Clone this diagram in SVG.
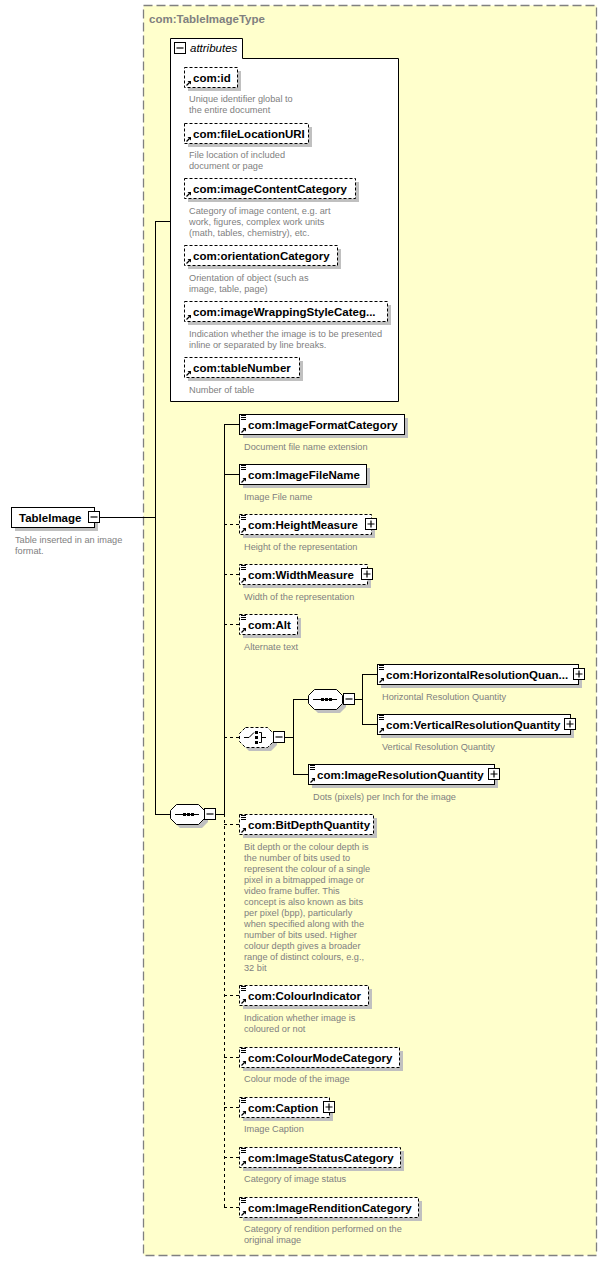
<svg xmlns="http://www.w3.org/2000/svg" xmlns:xlink="http://www.w3.org/1999/xlink" width="607" height="1262" viewBox="0 0 607 1262">
<style>
.frame{fill:#ffffcc;stroke:#808080;stroke-width:1.3;stroke-dasharray:9,4}
.box{fill:#ffffff;stroke:#000000;stroke-width:1}
.opt{stroke-dasharray:3,2}
.sh{fill:#c0c0c0}
.ln{fill:none;stroke:#000000;stroke-width:1}
.dl{fill:none;stroke:#000000;stroke-width:1;stroke-dasharray:3,3}
.nm{font-family:"Liberation Sans",Arial,sans-serif;font-weight:bold;font-size:11.5px;fill:#000000}
.ds{font-family:"Liberation Sans",Arial,sans-serif;font-size:9.2px;fill:#808080}
.ttl{font-family:"Liberation Sans",Arial,sans-serif;font-weight:bold;font-size:11.5px;fill:#808080}
.it{font-family:"Liberation Sans",Arial,sans-serif;font-style:italic;font-size:11.5px;fill:#000000}
</style>
<defs>
<g id="ico-el"><path d="M0,0.5H5M0,2.5H5M0,4.5H5" stroke="#000" stroke-width="1" fill="none"/></g>
<g id="ico-ref"><path d="M0.5,5.5L3.5,2.5" stroke="#000" stroke-width="1.2" fill="none"/><polygon points="1.5,1 5,1 5,4.5" fill="#000"/></g>
<g id="btn-minus"><rect x="0.5" y="0.5" width="11" height="11" fill="#fff" stroke="#000"/><path d="M2.5,6H9.5" stroke="#000" stroke-width="1.2"/></g>
<g id="btn-plus"><rect x="0.5" y="0.5" width="11" height="11" fill="#fff" stroke="#000"/><path d="M2.5,6H9.5M6,2.5V9.5" stroke="#000" stroke-width="1.2"/></g>
<g id="seq-ico"><path d="M5,10H29" stroke="#000" stroke-width="1"/><rect x="13" y="8.5" width="3" height="3" fill="#000"/><rect x="17" y="8.5" width="3" height="3" fill="#000"/><rect x="21" y="8.5" width="3" height="3" fill="#000"/></g>
</defs>

<rect class="frame" x="143.5" y="5.5" width="453" height="1250"/>
<text class="ttl" x="149" y="23">com:TableImageType</text>

<g id="connectors">
<path class="ln" d="M99,517.5H155.5M155.5,221V814M155,221.5H170M155,814.5H171"/>
<path class="ln" d="M216,814.5H224.5M224.5,424V814"/>
<path class="dl" d="M224.5,814V1207.5"/>
<path class="ln" d="M224,424.5H239M224,474.5H239"/>
<path class="dl" d="M224,524.5H239M224,574.5H239M224,624.5H239M224,737.5H239M224,824.5H239M224,995.5H239M224,1057.5H239M224,1107.5H239M224,1157.5H239M224,1207.5H239"/>
<path class="ln" d="M285,737.5H293.5M293.5,699V774M293,699.5H308M293,774.5H308"/>
<path class="ln" d="M355,699.5H362.5M362.5,674V724M362,674.5H377M362,724.5H377"/>
</g>

<g id="n-TableImage">
<rect class="sh" x="15" y="511" width="83" height="20"/>
<rect class="box" x="11.5" y="507.5" width="83" height="20"/>
<text class="nm" x="19" y="522">TableImage</text>
<use xlink:href="#btn-minus" x="88" y="511"/>
<text class="ds" x="15" y="543">Table inserted in an image</text>
<text class="ds" x="15" y="554">format.</text>
</g>

<g id="attributes">
<path d="M170.5,401.5V38.5H242.5V58.5H398.5V401.5Z" fill="#fff" stroke="#000"/>
<use xlink:href="#btn-minus" x="174" y="42"/>
<text class="it" x="190" y="52">attributes</text>
</g>

<g id="a-id">
<rect class="sh" x="188" y="71" width="53" height="20"/>
<rect class="box opt" x="184.5" y="67.5" width="53" height="20"/>
<use xlink:href="#ico-ref" x="186" y="80"/>
<text class="nm" x="193" y="82">com:id</text>
<text class="ds" x="189" y="102">Unique identifier global to</text>
<text class="ds" x="189" y="113">the entire document</text>
</g>
<g id="a-fileLocationURI">
<rect class="sh" x="188" y="127" width="124" height="20"/>
<rect class="box opt" x="184.5" y="123.5" width="124" height="20"/>
<use xlink:href="#ico-ref" x="186" y="136"/>
<text class="nm" x="193" y="138">com:fileLocationURI</text>
<text class="ds" x="189" y="158">File location of included</text>
<text class="ds" x="189" y="169">document or page</text>
</g>
<g id="a-imageContentCategory">
<rect class="sh" x="188" y="182" width="171" height="20"/>
<rect class="box opt" x="184.5" y="178.5" width="171" height="20"/>
<use xlink:href="#ico-ref" x="186" y="191"/>
<text class="nm" x="193" y="193">com:imageContentCategory</text>
<text class="ds" x="189" y="214">Category of image content, e.g. art</text>
<text class="ds" x="189" y="225">work, figures, complex work units</text>
<text class="ds" x="189" y="236">(math, tables, chemistry), etc.</text>
</g>
<g id="a-orientationCategory">
<rect class="sh" x="188" y="249" width="153" height="20"/>
<rect class="box opt" x="184.5" y="245.5" width="153" height="20"/>
<use xlink:href="#ico-ref" x="186" y="258"/>
<text class="nm" x="193" y="260">com:orientationCategory</text>
<text class="ds" x="189" y="281">Orientation of object (such as</text>
<text class="ds" x="189" y="292">image, table, page)</text>
</g>
<g id="a-imageWrappingStyleCategory">
<rect class="sh" x="188" y="305" width="203" height="20"/>
<rect class="box opt" x="184.5" y="301.5" width="203" height="20"/>
<use xlink:href="#ico-ref" x="186" y="314"/>
<text class="nm" x="193" y="316">com:imageWrappingStyleCateg...</text>
<text class="ds" x="189" y="337">Indication whether the image is to be presented</text>
<text class="ds" x="189" y="348">inline or separated by line breaks.</text>
</g>
<g id="a-tableNumber">
<rect class="sh" x="188" y="361" width="115" height="20"/>
<rect class="box opt" x="184.5" y="357.5" width="115" height="20"/>
<use xlink:href="#ico-ref" x="186" y="370"/>
<text class="nm" x="193" y="372">com:tableNumber</text>
<text class="ds" x="189" y="393">Number of table</text>
</g>

<g id="seq-main">
<polygon class="sh" points="180,808 202,808 208,814 208,822 202,828 180,828 174,822 174,814"/>
<polygon class="box" points="176.5,804.5 198.5,804.5 204.5,810.5 204.5,818.5 198.5,824.5 176.5,824.5 170.5,818.5 170.5,810.5"/>
<use xlink:href="#seq-ico" x="170" y="804.5"/>
<use xlink:href="#btn-minus" x="204" y="808"/>
</g>

<g id="e-ImageFormatCategory">
<rect class="sh" x="243" y="418" width="165" height="20"/>
<rect class="box" x="239.5" y="414.5" width="165" height="20"/>
<use xlink:href="#ico-el" x="241" y="415"/>
<use xlink:href="#ico-ref" x="241" y="427"/>
<text class="nm" x="248" y="429">com:ImageFormatCategory</text>
<text class="ds" x="244" y="450">Document file name extension</text>
</g>
<g id="e-ImageFileName">
<rect class="sh" x="243" y="468" width="127" height="20"/>
<rect class="box" x="239.5" y="464.5" width="127" height="20"/>
<use xlink:href="#ico-el" x="241" y="465"/>
<use xlink:href="#ico-ref" x="241" y="477"/>
<text class="nm" x="248" y="479">com:ImageFileName</text>
<text class="ds" x="244" y="500">Image File name</text>
</g>
<g id="e-HeightMeasure">
<rect class="sh" x="243" y="518" width="132" height="20"/>
<rect class="box opt" x="239.5" y="514.5" width="132" height="20"/>
<use xlink:href="#ico-el" x="241" y="515"/>
<use xlink:href="#ico-ref" x="241" y="527"/>
<text class="nm" x="248" y="529">com:HeightMeasure</text>
<use xlink:href="#btn-plus" x="365" y="518"/>
<text class="ds" x="244" y="550">Height of the representation</text>
</g>
<g id="e-WidthMeasure">
<rect class="sh" x="243" y="568" width="128" height="20"/>
<rect class="box opt" x="239.5" y="564.5" width="128" height="20"/>
<use xlink:href="#ico-el" x="241" y="565"/>
<use xlink:href="#ico-ref" x="241" y="577"/>
<text class="nm" x="248" y="579">com:WidthMeasure</text>
<use xlink:href="#btn-plus" x="361" y="568"/>
<text class="ds" x="244" y="600">Width of the representation</text>
</g>
<g id="e-Alt">
<rect class="sh" x="243" y="618" width="58" height="20"/>
<rect class="box opt" x="239.5" y="614.5" width="58" height="20"/>
<use xlink:href="#ico-el" x="241" y="615"/>
<use xlink:href="#ico-ref" x="241" y="627"/>
<text class="nm" x="248" y="629">com:Alt</text>
<text class="ds" x="244" y="650">Alternate text</text>
</g>

<g id="choice">
<polygon class="sh" points="249,731 271,731 277,737 277,745 271,751 249,751 243,745 243,737"/>
<polygon class="box opt" points="245.5,727.5 267.5,727.5 273.5,733.5 273.5,741.5 267.5,747.5 245.5,747.5 239.5,741.5 239.5,733.5"/>
<path d="M244,737.5H249L254,732.5" stroke="#000" fill="none"/>
<rect x="255" y="731" width="3" height="3" fill="#000"/>
<rect x="255" y="736" width="3" height="3" fill="#000"/>
<rect x="255" y="741" width="3" height="3" fill="#000"/>
<path d="M259,732.5H261.5V742.5H259M261.5,737.5H266" stroke="#000" fill="none"/>
<use xlink:href="#btn-minus" x="273" y="731"/>
</g>

<g id="seq-inner">
<polygon class="sh" points="318,693 340,693 346,699 346,707 340,713 318,713 312,707 312,699"/>
<polygon class="box" points="314.5,689.5 336.5,689.5 342.5,695.5 342.5,703.5 336.5,709.5 314.5,709.5 308.5,703.5 308.5,695.5"/>
<use xlink:href="#seq-ico" x="308" y="689.5"/>
<use xlink:href="#btn-minus" x="343" y="693"/>
</g>

<g id="e-HorizontalResolutionQuantity">
<rect class="sh" x="381" y="668" width="201" height="20"/>
<rect class="box" x="377.5" y="664.5" width="201" height="20"/>
<use xlink:href="#ico-el" x="379" y="665"/>
<use xlink:href="#ico-ref" x="379" y="677"/>
<text class="nm" x="386" y="679">com:HorizontalResolutionQuan...</text>
<use xlink:href="#btn-plus" x="573" y="668"/>
<text class="ds" x="382" y="700">Horizontal Resolution Quantity</text>
</g>
<g id="e-VerticalResolutionQuantity">
<rect class="sh" x="381" y="718" width="193" height="20"/>
<rect class="box" x="377.5" y="714.5" width="193" height="20"/>
<use xlink:href="#ico-el" x="379" y="715"/>
<use xlink:href="#ico-ref" x="379" y="727"/>
<text class="nm" x="386" y="729">com:VerticalResolutionQuantity</text>
<use xlink:href="#btn-plus" x="564" y="718"/>
<text class="ds" x="382" y="750">Vertical Resolution Quantity</text>
</g>
<g id="e-ImageResolutionQuantity">
<rect class="sh" x="312" y="768" width="186" height="20"/>
<rect class="box" x="308.5" y="764.5" width="186" height="20"/>
<use xlink:href="#ico-el" x="310" y="765"/>
<use xlink:href="#ico-ref" x="310" y="777"/>
<text class="nm" x="317" y="779">com:ImageResolutionQuantity</text>
<use xlink:href="#btn-plus" x="488" y="768"/>
<text class="ds" x="313" y="800">Dots (pixels) per Inch for the image</text>
</g>

<g id="e-BitDepthQuantity">
<rect class="sh" x="243" y="818" width="134" height="20"/>
<rect class="box opt" x="239.5" y="814.5" width="134" height="20"/>
<use xlink:href="#ico-el" x="241" y="815"/>
<use xlink:href="#ico-ref" x="241" y="827"/>
<text class="nm" x="248" y="829">com:BitDepthQuantity</text>
<text class="ds" x="244" y="850">Bit depth or the colour depth is</text>
<text class="ds" x="244" y="861">the number of bits used to</text>
<text class="ds" x="244" y="872">represent the colour of a single</text>
<text class="ds" x="244" y="883">pixel in a bitmapped image or</text>
<text class="ds" x="244" y="894">video frame buffer. This</text>
<text class="ds" x="244" y="905">concept is also known as bits</text>
<text class="ds" x="244" y="916">per pixel (bpp), particularly</text>
<text class="ds" x="244" y="927">when specified along with the</text>
<text class="ds" x="244" y="938">number of bits used. Higher</text>
<text class="ds" x="244" y="949">colour depth gives a broader</text>
<text class="ds" x="244" y="960">range of distinct colours, e.g.,</text>
<text class="ds" x="244" y="971">32 bit</text>
</g>
<g id="e-ColourIndicator">
<rect class="sh" x="243" y="989" width="129" height="20"/>
<rect class="box opt" x="239.5" y="985.5" width="129" height="20"/>
<use xlink:href="#ico-el" x="241" y="986"/>
<use xlink:href="#ico-ref" x="241" y="998"/>
<text class="nm" x="248" y="1000">com:ColourIndicator</text>
<text class="ds" x="244" y="1021">Indication whether image is</text>
<text class="ds" x="244" y="1032">coloured or not</text>
</g>
<g id="e-ColourModeCategory">
<rect class="sh" x="243" y="1051" width="160" height="20"/>
<rect class="box opt" x="239.5" y="1047.5" width="160" height="20"/>
<use xlink:href="#ico-el" x="241" y="1048"/>
<use xlink:href="#ico-ref" x="241" y="1060"/>
<text class="nm" x="248" y="1062">com:ColourModeCategory</text>
<text class="ds" x="244" y="1082">Colour mode of the image</text>
</g>
<g id="e-Caption">
<rect class="sh" x="243" y="1101" width="90" height="20"/>
<rect class="box opt" x="239.5" y="1097.5" width="90" height="20"/>
<use xlink:href="#ico-el" x="241" y="1098"/>
<use xlink:href="#ico-ref" x="241" y="1110"/>
<text class="nm" x="248" y="1112">com:Caption</text>
<use xlink:href="#btn-plus" x="323" y="1101"/>
<text class="ds" x="244" y="1132">Image Caption</text>
</g>
<g id="e-ImageStatusCategory">
<rect class="sh" x="243" y="1151" width="161" height="20"/>
<rect class="box opt" x="239.5" y="1147.5" width="161" height="20"/>
<use xlink:href="#ico-el" x="241" y="1148"/>
<use xlink:href="#ico-ref" x="241" y="1160"/>
<text class="nm" x="248" y="1162">com:ImageStatusCategory</text>
<text class="ds" x="244" y="1182">Category of image status</text>
</g>
<g id="e-ImageRenditionCategory">
<rect class="sh" x="243" y="1201" width="179" height="20"/>
<rect class="box opt" x="239.5" y="1197.5" width="179" height="20"/>
<use xlink:href="#ico-el" x="241" y="1198"/>
<use xlink:href="#ico-ref" x="241" y="1210"/>
<text class="nm" x="248" y="1212">com:ImageRenditionCategory</text>
<text class="ds" x="244" y="1232">Category of rendition performed on the</text>
<text class="ds" x="244" y="1243">original image</text>
</g>
</svg>
